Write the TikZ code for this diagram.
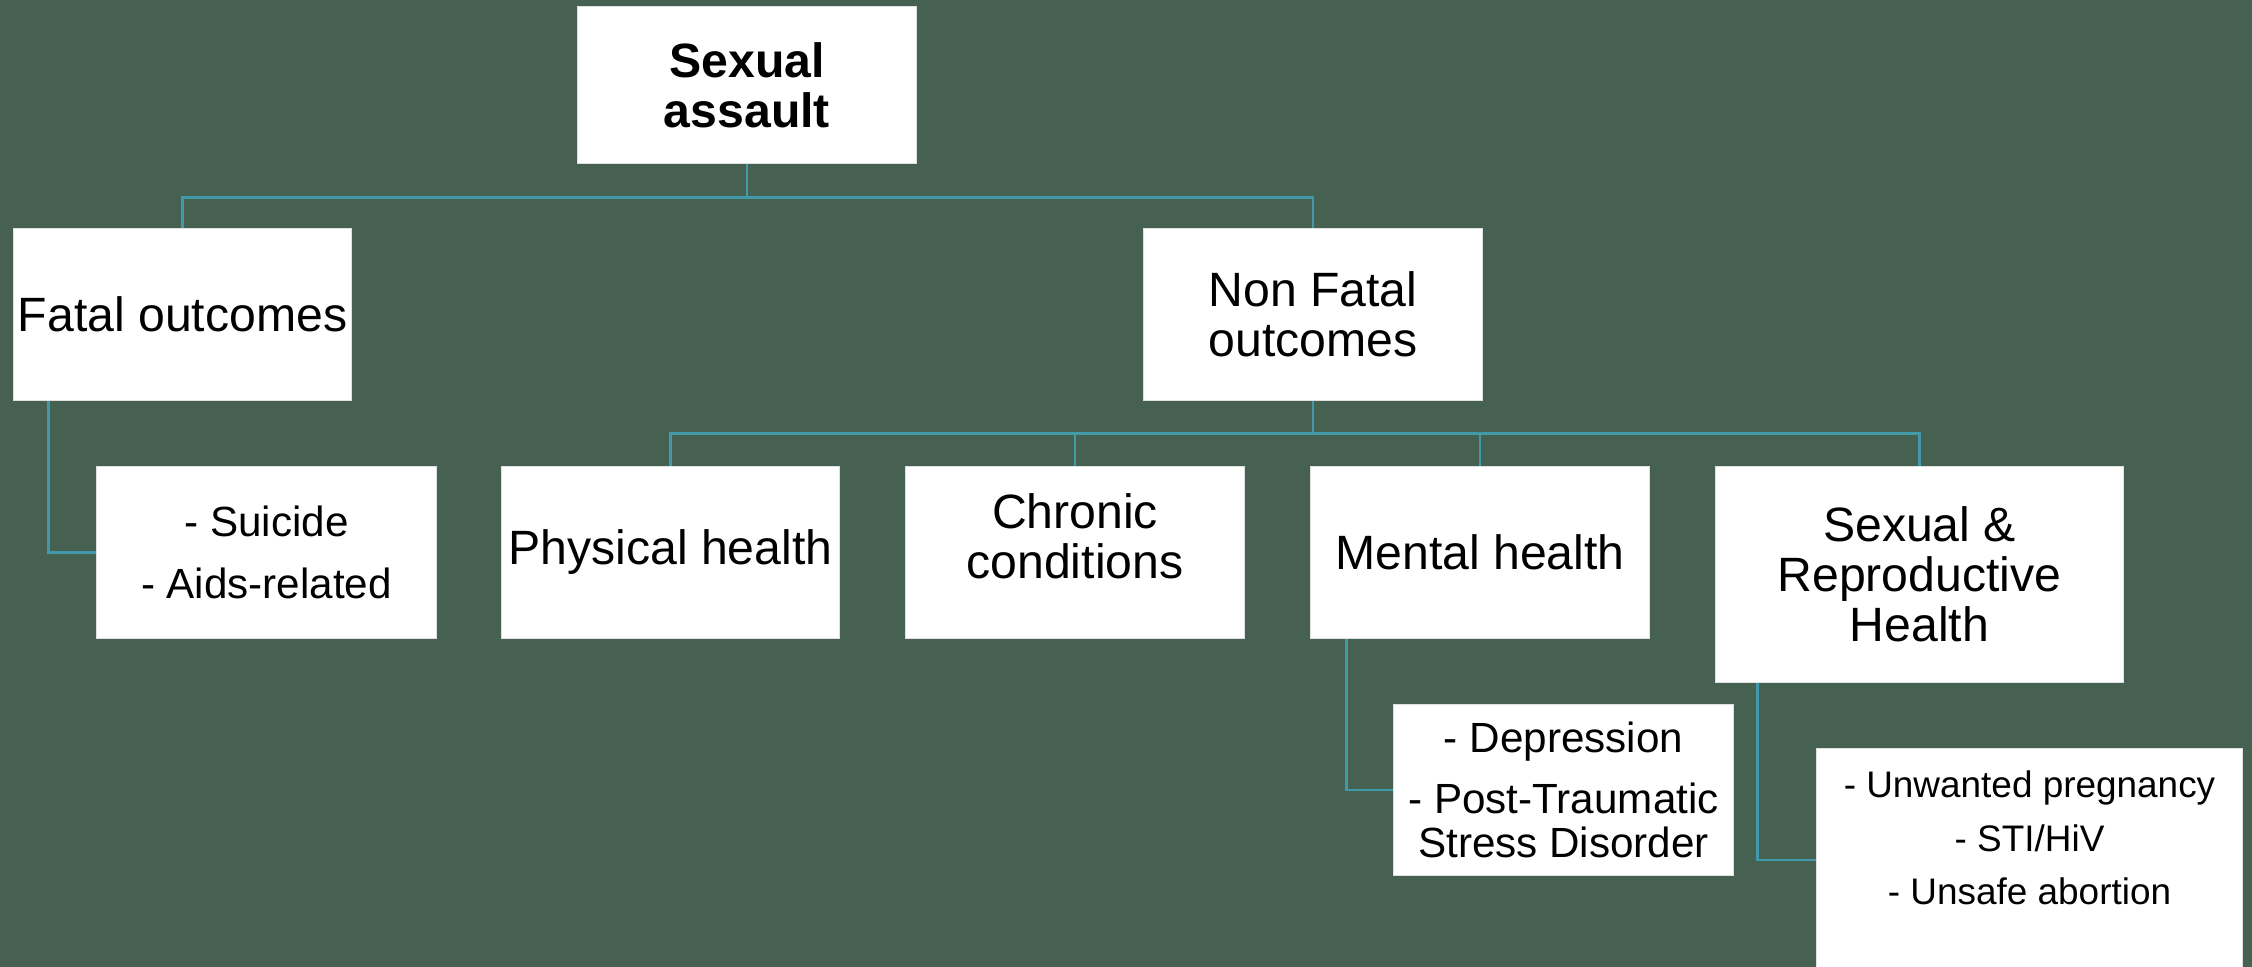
\documentclass[tikz,border=0pt]{standalone}
\usepackage{fontspec}
\setmainfont{Liberation Sans}
\usepackage{xcolor}
\usepackage{tikz}
\usetikzlibrary{positioning}
\definecolor{Hintergrund}{RGB}{70,97,82}
\definecolor{Linienfarbe}{RGB}{64,154,170}
\tikzset{
  Kasten/.style 2 args={fill=white, draw=black!12, line width=.3pt, align=center,
    inner sep=0pt, minimum width=#1, minimum height=#2}, % weisse Felder
  Titel/.style={font=\fontsize{13.7}{14.2}\selectfont\bfseries}, % Oberbegriff
  Liste/.style={font=\fontsize{12}{12.5}\selectfont}, % Aufzaehlungen
  KleinListe/.style={font=\fontsize{10.5}{15.2}\selectfont}, % kleine Aufzaehlung
  Linie/.style={draw=Linienfarbe, line width=.75pt} % Verbindungslinien
}

\begin{document}
\begin{tikzpicture}[x=0.01cm, y=-0.01cm,
font=\fontsize{13.7}{14.2}\selectfont
]
\useasboundingbox (0,0) rectangle (2252,967);
\clip (0,0) rectangle (2252,967);
\fill[Hintergrund] (0,0) rectangle (2252,967);

%Kaesten
\node[Kasten={3.38cm}{1.56cm}, Titel] (SA) at (747,85) {Sexual\\assault};

\node[Kasten={3.37cm}{1.71cm}] (FO) at (182.5,314.5) {Fatal outcomes};
\node[Kasten={3.38cm}{1.71cm}] (NFO) at (1313,314.5) {Non Fatal\\outcomes};

\node[Kasten={3.39cm}{1.71cm}, Liste] (FOL) at (266.5,552.5) {- Suicide\\[4.9pt]- Aids-related};

\node[Kasten={3.37cm}{1.71cm}] (PH) at (670.5,552.5) {Physical health};
\node[Kasten={3.38cm}{1.71cm}] (CC) at (1075,552.5) {Chronic\\conditions\\[-4.7pt]\mbox{}};
\node[Kasten={3.38cm}{1.71cm}] (MH) at (1480,552.5) {Mental health};
\node[Kasten={4.07cm}{2.15cm}] (SRH) at (1919.5,574.5) {Sexual \&\\Reproductive\\Health};

\node[Kasten={3.39cm}{1.70cm}, Liste] (MHL) at (1563.5,790)
  {- Depression\\[4.9pt]- Post-Traumatic\\Stress Disorder};
\node[Kasten={4.25cm}{2.22cm}, KleinListe] (SRHL) at (2029.5,860)
  {- Unwanted pregnancy\\- STI/HiV\\- Unsafe abortion\\[-2.5pt]\mbox{}};

%Verbindungen
\draw[Linie] (SA.south) -- ++(0,34) -| (FO.north);
\draw[Linie] (SA.south) -- ++(0,34) -| (NFO.north);

\foreach \k in {PH,CC,MH,SRH}
  \draw[Linie] (NFO.south) -- ++(0,33) -| (\k.north);

\draw[Linie] ([xshift=.35cm]FO.south west) |- (FOL.west);
\draw[Linie] ([xshift=.36cm]MH.south west) |- (MHL.west);
\draw[Linie] ([xshift=.42cm]SRH.south west) |- (SRHL.west);

\end{tikzpicture}
\end{document}
